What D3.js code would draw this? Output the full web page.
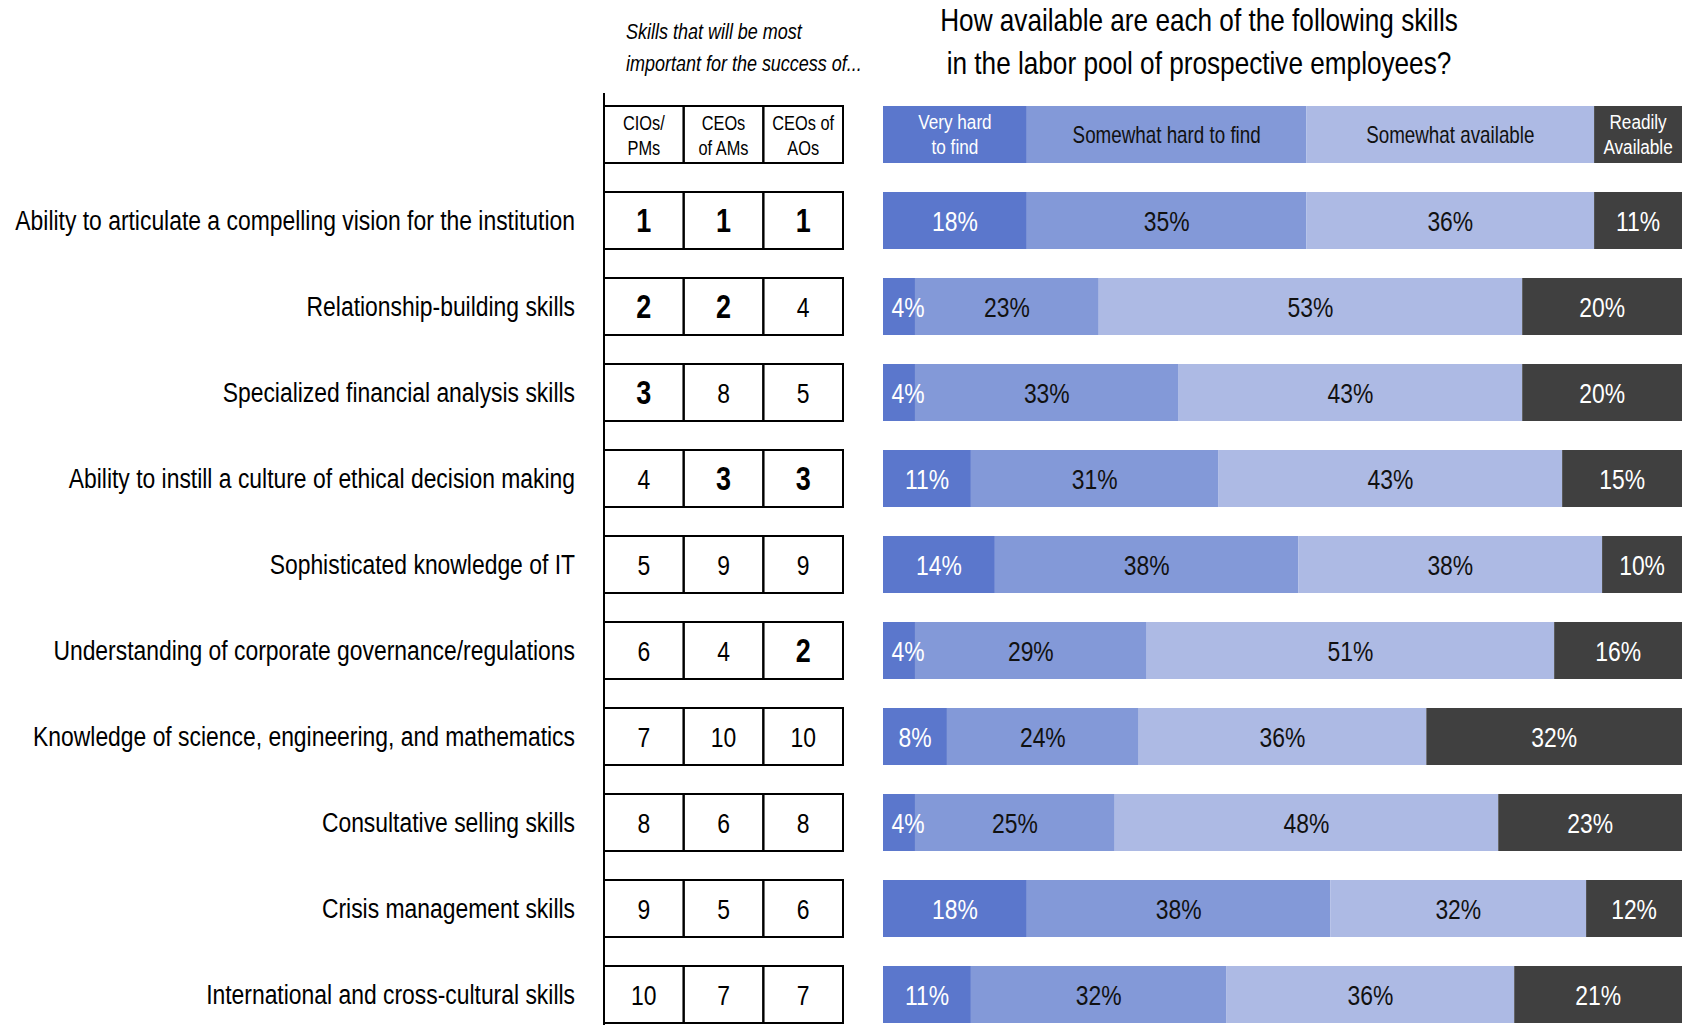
<!DOCTYPE html>
<html>
<head>
<meta charset="utf-8">
<script src="https://cdn.jsdelivr.net/npm/d3@7"></script>
<style>
  body { margin: 0; background: #fff; }
  svg text { font-family: "Liberation Sans", Arial, sans-serif; }
</style>
</head>
<body>
<div id="chart"></div>
<script>
// skills, top to bottom
var skills = [
    "Ability to articulate a compelling vision for the institution",
    "Relationship-building skills",
    "Specialized financial analysis skills",
    "Ability to instill a culture of ethical decision making",
    "Sophisticated knowledge of IT",
    "Understanding of corporate governance/regulations",
    "Knowledge of science, engineering, and mathematics",
    "Consultative selling skills",
    "Crisis management skills",
    "International and cross-cultural skills"
];

// ranks (importance for the success of ...)
var rankCIO   = [1, 2, 3, 4, 5, 6, 7, 8, 9, 10];
var rankCEOAM = [1, 2, 8, 3, 9, 4, 10, 6, 5, 7];
var rankCEOAO = [1, 4, 5, 3, 9, 2, 10, 8, 6, 7];
var groupHeaders = [["CIOs/", "PMs"], ["CEOs", "of AMs"], ["CEOs of", "AOs"]];

// availability in the labor pool (%)
var veryHard      = [18, 4, 4, 11, 14, 4, 8, 4, 18, 11];
var somewhatHard  = [35, 23, 33, 31, 38, 29, 24, 25, 38, 32];
var somewhatAvail = [36, 53, 43, 43, 38, 51, 36, 48, 32, 36];
var readily       = [11, 20, 20, 15, 10, 16, 32, 23, 12, 21];
var availHeaders  = [["Very hard", "to find"], ["Somewhat hard to find"], ["Somewhat available"], ["Readily", "Available"]];

var colors    = ["#5b77cc", "#8399d8", "#adbae4", "#404040"];
var textColor = ["#fff", "#111", "#111", "#fff"];

var width = 1682, height = 1025;

var svg = d3.select("#chart")
  .append("svg")
    .attr("width", width)
    .attr("height", height);

// rows: header + one per skill
var y = d3.scaleBand()
    .domain(["header"].concat(skills))
    .range([106, 1023])
    .paddingInner(29 / 86)
    .paddingOuter(0);

var col = d3.scaleBand()
    .domain([0, 1, 2])
    .range([604, 843]);

var x = d3.scaleLinear()
    .domain([0, 100])
    .range([883, 1682]);

// titles
svg.append("text")
    .attr("x", 1199).attr("y", 31)
    .attr("text-anchor", "middle")
    .style("font-size", "32px")
    .text("How available are each of the following skills");
svg.append("text")
    .attr("x", 1199).attr("y", 74)
    .attr("text-anchor", "middle")
    .style("font-size", "32px")
    .text("in the labor pool of prospective employees?");

svg.append("text")
    .attr("x", 626).attr("y", 39)
    .style("font-size", "22px").style("font-style", "italic")
    .text("Skills that will be most");
svg.append("text")
    .attr("x", 626).attr("y", 71)
    .style("font-size", "22px").style("font-style", "italic")
    .text("important for the success of...");

// skill labels
svg.selectAll(".skill")
    .data(skills)
    .enter()
    .append("text")
        .attr("class", "skill")
        .attr("x", 575)
        .attr("y", function(d) { return y(d) + y.bandwidth() / 2; })
        .attr("dy", "0.35em")
        .attr("text-anchor", "end")
        .style("font-size", "28px")
        .text(function(d) { return d; });

// left rule of the table
svg.append("line")
    .attr("x1", 604).attr("x2", 604)
    .attr("y1", 93).attr("y2", height)
    .attr("stroke", "#000").attr("stroke-width", 2);

// table header cells
var hdr = svg.append("g");
groupHeaders.forEach(function(lines, i) {
    hdr.append("rect")
        .attr("x", col(i)).attr("y", y("header"))
        .attr("width", col.bandwidth()).attr("height", y.bandwidth())
        .attr("fill", "none").attr("stroke", "#000").attr("stroke-width", 2);
    lines.forEach(function(t, j) {
        hdr.append("text")
            .attr("x", col(i) + col.bandwidth() / 2)
            .attr("y", y("header") + 24 + j * 25)
            .attr("text-anchor", "middle")
            .style("font-size", "20px")
            .text(t);
    });
});

// rank cells
var ranks = [rankCIO, rankCEOAM, rankCEOAO];
skills.forEach(function(s, r) {
    ranks.forEach(function(arr, i) {
        svg.append("rect")
            .attr("x", col(i)).attr("y", y(s))
            .attr("width", col.bandwidth()).attr("height", y.bandwidth())
            .attr("fill", "none").attr("stroke", "#000").attr("stroke-width", 2);
        var v = arr[r];
        svg.append("text")
            .attr("x", col(i) + col.bandwidth() / 2)
            .attr("y", y(s) + y.bandwidth() / 2)
            .attr("dy", "0.36em")
            .attr("text-anchor", "middle")
            .style("font-size", v <= 3 ? "33px" : "28px")
            .style("font-weight", v <= 3 ? "bold" : "normal")
            .text(v);
    });
});

// stacked availability bars
var rows = skills.map(function(s, i) {
    return { skill: s, values: [veryHard[i], somewhatHard[i], somewhatAvail[i], readily[i]] };
});

function segments(vals) {
    var acc = 0;
    return vals.map(function(v, k) {
        var seg = { k: k, v: v, x0: acc, x1: acc + v };
        acc += v;
        return seg;
    });
}

rows.forEach(function(row) {
    var g = svg.append("g");
    var segs = segments(row.values);
    g.selectAll("rect")
        .data(segs)
        .enter()
        .append("rect")
            .attr("x", function(d) { return x(d.x0); })
            .attr("y", y(row.skill))
            .attr("width", function(d) { return x(d.x1) - x(d.x0); })
            .attr("height", y.bandwidth())
            .attr("fill", function(d) { return colors[d.k]; });
    g.selectAll("text")
        .data(segs)
        .enter()
        .append("text")
            .attr("x", function(d) {
                var cx = (x(d.x0) + x(d.x1)) / 2;
                return Math.max(cx, x(0) + 25);
            })
            .attr("y", y(row.skill) + y.bandwidth() / 2)
            .attr("dy", "0.37em")
            .attr("text-anchor", "middle")
            .attr("fill", function(d) { return textColor[d.k]; })
            .style("font-size", "28px")
            .text(function(d) { return d.v + "%"; });
});

// header bar uses the first row's split
var hsegs = segments(rows[0].values);
var hg = svg.append("g");
hg.selectAll("rect")
    .data(hsegs)
    .enter()
    .append("rect")
        .attr("x", function(d) { return x(d.x0); })
        .attr("y", y("header"))
        .attr("width", function(d) { return x(d.x1) - x(d.x0); })
        .attr("height", y.bandwidth())
        .attr("fill", function(d) { return colors[d.k]; });
hsegs.forEach(function(d) {
    var lines = availHeaders[d.k];
    var cx = (x(d.x0) + x(d.x1)) / 2;
    var cy = y("header") + y.bandwidth() / 2;
    lines.forEach(function(t, j) {
        hg.append("text")
            .attr("x", cx)
            .attr("y", cy + (j - (lines.length - 1) / 2) * 25)
            .attr("dy", "0.35em")
            .attr("text-anchor", "middle")
            .attr("fill", textColor[d.k])
            .style("font-size", lines.length > 1 ? "21px" : "23px")
            .text(t);
    });
});

// the original uses a condensed face: squeeze every text horizontally,
// factor taken from the longest skill label (should span ~560px)
var longest = svg.select(".skill").node().getComputedTextLength();
var sx = 560 / longest;
svg.selectAll("text").each(function() {
    var t = d3.select(this);
    var tx = +t.attr("x"), ty = +t.attr("y");
    t.attr("x", 0).attr("y", 0)
     .attr("transform", "translate(" + tx + "," + ty + ") scale(" + sx + ",1)");
});
</script>
</body>
</html>
